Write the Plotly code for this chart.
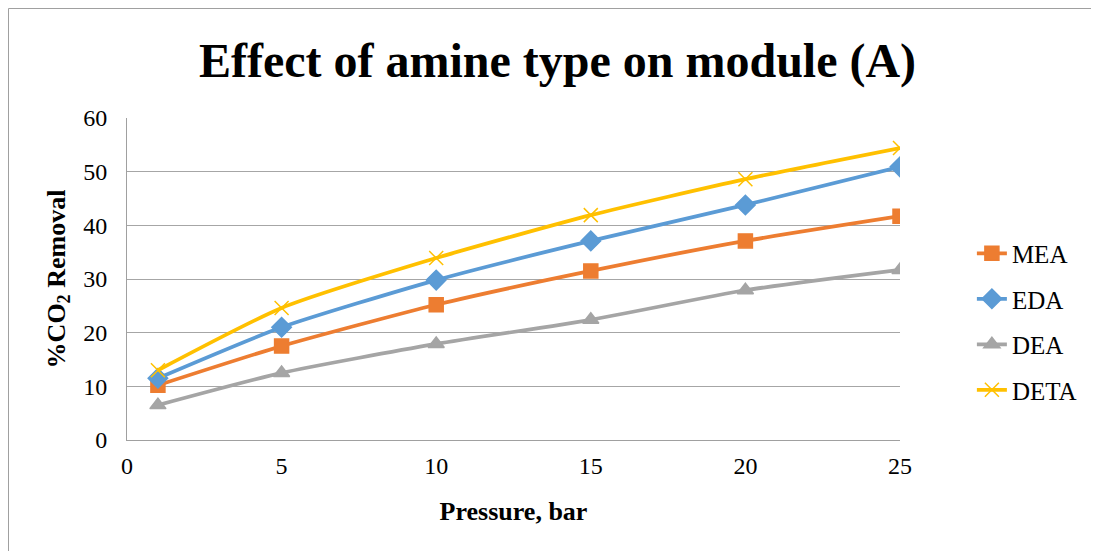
import plotly.graph_objects as go

pressure = [1, 5, 10, 15, 20, 25]
mea = [10.2, 17.5, 25.2, 31.5, 37.1, 41.7]
eda = [11.5, 21.0, 29.8, 37.1, 43.8, 50.9]
dea = [6.5, 12.5, 17.9, 22.4, 27.9, 31.7]
deta = [13.0, 24.6, 33.9, 41.9, 48.6, 54.4]

series = [
    ("MEA", mea, "#ED7D31", "square", 14),
    ("EDA", eda, "#5B9BD5", "diamond", 15),
    ("DEA", dea, "#A5A5A5", "triangle-up", 14),
    ("DETA", deta, "#FFC000", "x-thin-open", 14),
]

fig = go.Figure()
for i, (name, vals, color, sym, size) in enumerate(series):
    fig.add_trace(go.Scatter(
        x=pressure, y=vals, name=name, mode="lines+markers",
        line=dict(color=color, width=3.75, shape="spline", smoothing=0.6),
        marker=dict(symbol=sym, size=size, color=color,
                    line=dict(color=color, width=1.5)),
        legendgroup=f"g{i}",
    ))

L, T, W, H = 119, 110, 773, 322
font_family = "Liberation Serif, Times New Roman, serif"
fig.update_layout(
    width=1099, height=551,
    margin=dict(l=L, r=1099 - L - W, t=T, b=551 - T - H),
    paper_bgcolor="white", plot_bgcolor="white",
    font=dict(family=font_family, size=24, color="black"),
    title=dict(text="<b>Effect of amine type on module (A)</b>",
               x=0.5, xanchor="center",
               y=(551 - 52) / 551, yanchor="middle",
               font=dict(size=48, family=font_family)),
    showlegend=True,
    legend=dict(x=1.093, xanchor="left", y=0.368, yanchor="middle",
                traceorder="grouped", tracegroupgap=10,
                font=dict(size=25, family=font_family),
                bgcolor="rgba(0,0,0,0)"),
    xaxis=dict(range=[0, 25], tickvals=[0, 5, 10, 15, 20, 25],
               showgrid=False, zeroline=False,
               showline=True, linecolor="#A0A0A0", linewidth=1,
               ticks="", ticklabelstandoff=4,
               title=dict(text="<b>Pressure, bar</b>", standoff=24,
                          font=dict(size=26, family=font_family)),
               tickfont=dict(size=24)),
    yaxis=dict(range=[0, 60], tickvals=[0, 10, 20, 30, 40, 50, 60],
               showgrid=True, gridcolor="#A6A6A6", gridwidth=1,
               zeroline=False,
               showline=True, linecolor="#A0A0A0", linewidth=1,
               ticks="", ticklabelstandoff=14,
               title=dict(text="<b>%CO<sub>2</sub> Removal</b>", standoff=10,
                          font=dict(size=26, family=font_family)),
               tickfont=dict(size=24)),
)

# outer chart border
fig.add_shape(type="rect", xref="paper", yref="paper",
              x0=(0.5 - L) / W, x1=(1110 - L) / W,
              y0=(T + H - 560) / H, y1=(T + H - 0.5) / H,
              line=dict(color="#A0A0A0", width=1), fillcolor="rgba(0,0,0,0)",
              layer="below")

fig.write_html("out.html")
